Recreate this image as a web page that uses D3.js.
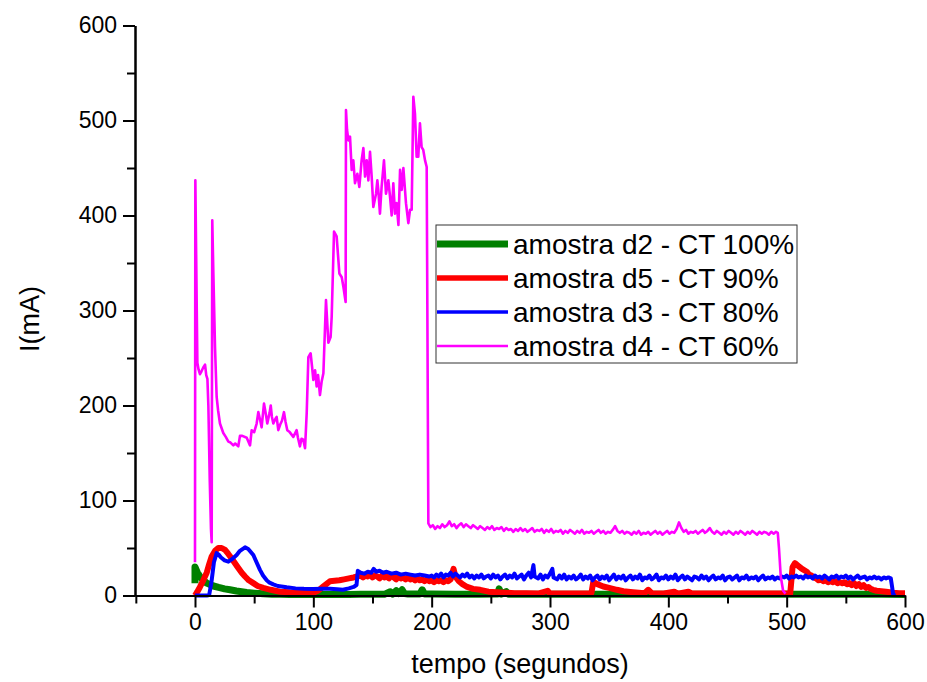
<!DOCTYPE html>
<html>
<head>
<meta charset="utf-8">
<script src="https://cdn.jsdelivr.net/npm/d3@7/dist/d3.min.js"></script>
<style>
  html, body { margin: 0; padding: 0; background: #fff; }
  svg { display: block; font-family: "Liberation Sans", Arial, sans-serif; }
</style>
</head>
<body>
<svg id="chart" width="927" height="682"></svg>
<script>
// ---------- data ----------
const xMajorTicks = [0, 100, 200, 300, 400, 500, 600];
const xMinorTicks = [-50, 50, 150, 250, 350, 450, 550];
const yMajorTicks = [0, 100, 200, 300, 400, 500, 600];
const yMinorTicks = [50, 150, 250, 350, 450, 550];

const seriesNames = ["amostra d2 - CT 100%", "amostra d5 - CT 90%", "amostra d3 - CT 80%", "amostra d4 - CT 60%"];
const seriesColors = ["#008000", "#ff0000", "#0000ff", "#ff00ff"];

// amostra d2 (tempo s, I mA)
const dataD2 = [[0,13],[0,30],[1,27],[2,24],[4.2,20],[7,16],[10,13],[15.5,10],[20,8.5],[25,7],[29.6,6],[35,4.8],[43.7,3.2],[50,2.5],[57.7,1.8],[65,1.4],[71.8,1.2],[80,1],[90,1],[100,1],[110,1],[120,1.2],[130,1],[140,1.2],[150,1.2],[160,1.2],[165,4],[167,1.5],[170,5],[172,2],[175,6],[177,2],[180,1.5],[190,1.5],[192,6],[194,1.5],[200,1.5],[220,1.3],[240,1.3],[256,1.5],[257,7],[259,1.5],[263,4],[265,1.3],[300,1.2],[340,1.2],[380,1.2],[420,1.2],[460,1.2],[500,1.2],[540,1.2],[580,1.2],[600,1]];

// amostra d5
const dataD5 = [[0,0],[2,4],[4.2,9],[7,16],[9.9,24],[12,33],[14.1,41],[17,47],[19.7,50],[22.5,50],[25.4,48],[28,44],[31,39],[33.8,34],[36.6,29],[39.5,24],[42.3,20],[45.5,16],[49.3,13],[53,10],[57.7,8],[64,6],[71.8,4],[80,3.3],[85.9,3],[93,2.8],[100,3],[104,5],[108,9],[111,12],[114,15],[118,15.5],[122,16],[126,17],[130,18],[134,19],[137,20],[140,21],[142,19],[144,21],[146,20],[148,22],[150,19],[152,21],[154,20],[156,18],[158,21],[160,19],[162,20],[164,18],[166,21],[168,19],[170,17],[172,20],[174,18],[176,19],[178,17],[180,19],[182,17],[184,18],[186,16],[188,18],[190,16],[192,17],[194,15],[196,17],[198,15],[200,16],[202,14],[204,16],[206,15],[208,16],[210,14],[212,16],[214,15],[216,17],[218.5,28],[220,20],[223,15],[226,12],[230,9],[235,7],[241,6],[248,4],[255,3.5],[262,3],[270,2.5],[280,2.5],[290,2],[298,5],[300,2],[310,2],[320,2],[330,2],[335,2.5],[336.6,14.5],[340,12],[345,9.5],[350,8],[356.5,6],[362,4.5],[370,3.5],[380,2.5],[383,6],[386,2.5],[395,2],[405,4],[408,2],[417,4],[420,2],[430,2],[440,2],[450,2],[460,2],[470,2],[480,2],[490,2],[500,2],[503,2],[505,30],[507,34],[510,31],[513,28],[517,25],[519,22],[521,21],[523,19],[525,18],[527,16],[529,17],[531,15],[533,16],[535,14],[537,15],[539,14],[541,15],[543,13],[545,14],[547,13],[549,14],[551,12],[553,13],[555,11],[557,13],[559,10],[561,12],[563,9],[565,11],[567,8],[569,9],[571,7],[573,6],[576,5],[580,4.5],[584,4],[590,3],[595,2.5],[600,2.5]];

// amostra d3
const dataD3 = [[0,0],[5,0],[10,0],[12,0.5],[14,15],[16,35],[18.3,44.6],[20,43],[22,40],[25,37],[28.2,35.6],[31,38],[35.2,42.6],[38,47],[42.3,50.7],[45,49],[49.3,42.6],[52,35],[54.9,27],[57.5,21],[60.6,16],[63,13.5],[66.2,11.8],[70,10],[77.5,8.6],[85,7.5],[92,7],[100,6.8],[107,7],[114,7],[120,6.5],[125,6],[130,7.5],[134,9],[136.5,11],[137.6,26],[140,24],[143,23],[146,25],[149,24],[151,28],[153,25],[156,26],[159,24],[162,25],[166,23],[170,24],[174,22],[178,23],[182,22],[186,21],[190,22],[194,21],[198,20],
[200,21],[202,19],[204,22],[206,20],[208,23],[210,19],[212,22],[214,21],[216,24],[218,20],[220,23],[222,21],[224,19],[226,22],[228,20],[230,23],[232,19],[234,21],[236,18],[238,21],[240,19],[242,22],[244,18],[246,20],[248,21],[250,18],[252,22],[254,19],[256,21],[258,17],[260,20],[262,22],[264,18],[266,21],[268,19],[270,23],[272,18],[274,20],[276,22],[278,17],[280,21],[282,24],[284,19],[286,32],[287,20],[290,18],[292,22],[294,17],[296,21],[298,19],[300,23],[302,28],[303,19],[306,17],[308,21],[310,18],[312,22],[314,17],[316,20],[318,18],[320,21],[322,17],[324,19],[326,22],[328,17],[330,20],[332,18],[334,21],[336,16],[338,19],[340,21],[342,17],[344,20],[346,18],[348,21],[350,16],[352,19],[354,22],[356,17],[358,20],[360,18],[362,21],[364,16],[366,19],[368,21],[370,17],[372,20],[374,18],[376,22],[378,16],[380,19],[382,18],[384,21],[386,17],[388,19],[390,22],[392,16],[394,19],[396,18],[398,21],[400,17],[402,20],[404,18],[406,22],[408,16],[410,19],[412,21],[414,17],[416,20],[418,18],[420,16],[422,20],[424,19],[426,17],[428,21],[430,18],[432,20],[434,16],[436,19],[438,21],[440,17],[442,19],[444,18],[446,21],[448,16],[450,19],[452,20],[454,17],[456,19],[458,21],[460,16],[462,19],[464,18],[466,21],[468,17],[470,19],[472,18],[474,20],[476,16],[478,19],[480,21],[482,17],[484,19],[486,18],[488,20],[490,17],[492,19],[494,18],[496,20],[498,19],[500,21],[502,18],[504,20],[506,19],[508,21],[510,19],[512,20],[514,18],[516,21],[518,19],[520,20],[522,18],[524,21],[526,19],[528,20],[530,18],[532,21],[534,19],[536,17],[538,20],[540,19],[542,21],[544,18],[546,20],[548,19],[550,21],[552,18],[554,20],[556,17],[558,19],[560,21],[562,18],[564,19],[566,20],[568,17],[570,19],[572,18],[574,20],[576,18],[578,19],[580,17],[582,19],[584,18],[586,19],[588,18],[589,10],[590,1],[592,0]];

// amostra d4
const dataD4 = [[0,35],[0.3,437],[1.5,300],[2,245],[3,238],[4.2,233],[5.5,236],[7,240],[8.5,243],[9.5,232],[10.5,228],[11.3,200],[12.5,120],[13.5,70],[14.1,56],[14.6,395],[15.5,340],[16.9,262],[18.3,209],[19.5,195],[21.1,181],[22.5,176],[23.9,171],[26,167],[28.2,162],[30,161],[32.4,158],[34,160],[36.6,157],[38,168],[40,168],[43.7,166],[46.5,158],[47.9,174],[50,172],[52.1,181],[53.5,193],[55,185],[56.3,177],[58.3,202],[60,190],[61.1,181],[63,192],[64,200],[65,188],[66.2,181],[68,186],[69,188],[70.4,174],[72,180],[73.5,184],[75.2,193],[76.5,183],[78,174],[80,172],[83.1,167],[85.9,174],[87,166],[88.7,157],[90,165],[91.5,164],[93,155],[94.4,192],[95.8,251],[97.7,255],[99,240],[100,227],[101.5,237],[102.8,220],[104,232],[105.6,211],[107,225],[108.5,234],[110.7,311],[112.7,266],[114.6,272],[115.5,293],[117.5,383],[119.7,378],[122,339],[124,335],[125.4,325],[127.3,309],[127.6,511],[128.5,490],[129.6,479],[131,483],[132.4,448],[133.8,458],[135.2,434],[137.2,444],[138.9,430],[140.8,458],[142.3,471],[143.7,441],[145.1,458],[146.5,437],[147.9,467],[149.3,441],[150.7,409],[153,423],[154.1,437],[154.9,427],[156.3,402],[157.7,430],[159.7,458],[161.4,423],[163.4,437],[164.8,420],[166.2,400],[167.6,434],[169,402],[170.4,413],[171.9,390],[173.3,448],[174.7,427],[176.1,450],[178.3,413],[180.3,392],[181.7,406],[183.1,406],[184.5,525],[185.9,507],[187.3,462],[188.7,462],[190.1,497],[191.5,472],[192.9,469],[194.4,458],[195.8,451],
[197.2,76],[199,72],[201,74],[203,70],[205,73],[207,71],[209,75],[211,72],[213,74],[215,78],[217,73],[219,75],[221,71],[223,74],[225,76],[227,72],[229,75],[231,73],[233,71],[235,74],[237,72],[239,70],[241,73],[243,71],[245,69],[247,72],[249,70],[251,73],[253,69],[255,71],[257,70],[259,72],[261,68],[263,71],[265,69],[267,70],[269,67],[271,70],[273,68],[275,71],[277,68],[279,70],[281,67],[283,69],[285,71],[287,67],[289,69],[291,68],[293,70],[295,66],[297,69],[299,67],[301,70],[303,66],[305,68],[307,67],[309,69],[311,65],[313,68],[315,66],[317,69],[319,67],[321,65],[323,68],[325,66],[327,69],[329,65],[331,67],[333,66],[335,68],[337,65],[339,67],[341,69],[343,66],[345,68],[347,65],[349,67],[351,66],[353,69],[355,73],[357,68],[359,66],[361,68],[363,65],[365,67],[367,66],[369,64],[371,67],[373,65],[375,68],[377,64],[379,66],[381,65],[383,67],[385,64],[387,66],[389,68],[391,65],[393,67],[395,64],[397,66],[399,68],[401,65],[403,67],[405,66],[407,70],[409,77],[411,71],[413,67],[415,69],[417,65],[419,67],[421,66],[423,68],[425,65],[427,67],[429,69],[431,66],[433,68],[435,71],[437,67],[439,65],[441,68],[443,66],[445,64],[447,67],[449,65],[451,68],[453,66],[455,64],[457,67],[459,65],[461,68],[463,66],[465,64],[467,67],[469,65],[471,68],[473,66],[475,64],[477,67],[479,65],[481,67],[483,66],[485,64],[487,67],[489,65],[491,67],[492.5,66],[493.5,50],[495,20],[497,5],[499,2]];

const allSeries = [dataD2, dataD5, dataD3, dataD4];
const legendWidths = [7, 5.5, 3.5, 2.5];
const plotWidths = [7, 6, 4, 2.6];

// ---------- chart ----------
const svg = d3.select("#chart");
const x = d3.scaleLinear().domain([-50.7, 600]).range([135, 905]);
const y = d3.scaleLinear().domain([0, 600]).range([595.5, 25.5]);

const line = d3.line().x(d => x(d[0])).y(d => y(d[1]));

const plot = svg.append("g");
allSeries.forEach((s, i) => {
  plot.append("path")
    .datum(s)
    .attr("d", line)
    .attr("fill", "none")
    .attr("stroke", seriesColors[i])
    .attr("stroke-width", plotWidths[i])
    .attr("stroke-linejoin", "round");
});

// axes
function styleAxis(g) {
  g.selectAll("path.domain").attr("stroke", "#000").attr("stroke-width", 2);
  g.selectAll(".tick line").attr("stroke", "#000").attr("stroke-width", 2);
  g.selectAll(".tick text").attr("fill", "#000").attr("font-size", 23)
    .attr("font-family", "'Liberation Sans', Arial, sans-serif");
}

const xMinor = svg.append("g").attr("transform", `translate(0,${y(0)})`)
  .call(d3.axisBottom(x).tickValues(xMinorTicks).tickSize(8).tickSizeOuter(0).tickFormat(""));
styleAxis(xMinor);
const xMajor = svg.append("g").attr("transform", `translate(0,${y(0)})`)
  .call(d3.axisBottom(x).tickValues(xMajorTicks).tickSize(12).tickSizeOuter(0).tickPadding(6).tickFormat(d3.format("d")));
styleAxis(xMajor);

const yMinor = svg.append("g").attr("transform", `translate(${x(-50.7)},0)`)
  .call(d3.axisLeft(y).tickValues(yMinorTicks).tickSize(8).tickSizeOuter(0).tickFormat(""));
styleAxis(yMinor);
const yMajor = svg.append("g").attr("transform", `translate(${x(-50.7)},0)`)
  .call(d3.axisLeft(y).tickValues(yMajorTicks).tickSize(12).tickSizeOuter(0).tickPadding(6).tickFormat(d3.format("d")));
styleAxis(yMajor);

// axis titles
svg.append("text")
  .attr("x", 520).attr("y", 673)
  .attr("text-anchor", "middle")
  .attr("font-size", 27)
  .attr("fill", "#000")
  .text("tempo (segundos)");

svg.append("text")
  .attr("transform", "translate(39,319) rotate(-90)")
  .attr("text-anchor", "middle")
  .attr("font-size", 27)
  .attr("fill", "#000")
  .text("I(mA)");

// legend
const legend = svg.append("g");
legend.append("rect")
  .attr("x", 436).attr("y", 225).attr("width", 361).attr("height", 138)
  .attr("fill", "#fff").attr("stroke", "#333").attr("stroke-width", 1);
seriesNames.forEach((name, i) => {
  const ly = 244 + i * 34;
  legend.append("line")
    .attr("x1", 437).attr("x2", 508).attr("y1", ly).attr("y2", ly)
    .attr("stroke", seriesColors[i]).attr("stroke-width", legendWidths[i]);
  legend.append("text")
    .attr("x", 513).attr("y", ly + 9.5)
    .attr("font-size", 28)
    .attr("fill", "#000")
    .text(name);
});
</script>
</body>
</html>
